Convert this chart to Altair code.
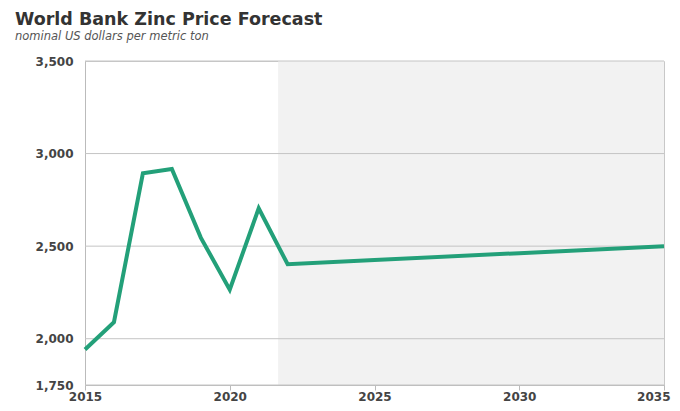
import altair as alt
import pandas as pd

years = [2015, 2016, 2017, 2018, 2019, 2020, 2021, 2022, 2025, 2030, 2035]
prices = [1942, 2089, 2893, 2917, 2546, 2265, 2704, 2402, 2425, 2462, 2500]
shade_start = [2021.67]
shade_end = [2035]
y_ticks = [1750, 2000, 2500, 3000, 3500]
x_ticks = [2015, 2020, 2025, 2030, 2035]

df = pd.DataFrame({"year": years, "price": prices})
shade = pd.DataFrame({"x": shade_start, "x2": shade_end,
                      "y": [min(y_ticks)], "y2": [max(y_ticks)]})
grid = pd.DataFrame({"v": y_ticks})

xscale = alt.Scale(domain=[2015, 2035], nice=False, zero=False)
yscale = alt.Scale(domain=[1750, 3500], nice=False, zero=False)

xaxis = alt.Axis(values=x_ticks, format="d", title=None, grid=False,
                 tickSize=5, tickColor="#bbbbbb", domainColor="#bbbbbb",
                 labelFontSize=12, labelColor="#444444", labelPadding=1,
                 labelFont="DejaVu Sans", labelFontWeight="bold",
                 labelFlush=False,
                 labelAlign={"condition": {"test": "datum.value >= 2035", "value": "right"},
                             "value": "center"},
                 labelOffset={"condition": {"test": "datum.value >= 2035", "value": 6},
                              "value": 0})
yaxis = alt.Axis(values=y_ticks, format=",.0f", title=None, grid=False,
                 ticks=False, domainColor="#bbbbbb",
                 labelFontSize=12, labelColor="#444444", labelPadding=12,
                 labelFont="DejaVu Sans", labelFontWeight="bold")

band = alt.Chart(shade).mark_rect(color="#f2f2f2").encode(
    x=alt.X("x:Q", scale=xscale, axis=xaxis),
    x2="x2",
    y=alt.Y("y:Q", scale=yscale, axis=yaxis),
    y2="y2",
)

rules = alt.Chart(grid).mark_rule(color="#c4c4c4", strokeWidth=1).encode(
    y=alt.Y("v:Q", scale=yscale, axis=yaxis)
)

line = alt.Chart(df).mark_line(color="#23a079", strokeWidth=4, strokeJoin="miter").encode(
    x=alt.X("year:Q", scale=xscale, axis=xaxis),
    y=alt.Y("price:Q", scale=yscale, axis=yaxis),
)

chart = alt.layer(band, rules, line).properties(
    width=579,
    height=324,
    autosize=alt.AutoSizeParams(type="none"),
    padding={"left": 77, "top": 53, "right": 8, "bottom": 18},
    title=alt.TitleParams(
        text="World Bank Zinc Price Forecast",
        subtitle="nominal US dollars per metric ton",
        anchor="start",
        frame="group",
        dx=-70,
        offset=13,
        font="DejaVu Sans",
        fontSize=17.5,
        fontWeight="bold",
        color="#333333",
        subtitleFont="DejaVu Sans",
        subtitleFontSize=11.5,
        subtitleFontStyle="italic",
        subtitleColor="#555555",
        subtitlePadding=2,
    ),
).configure_view(stroke="#c8c8c8")

chart.save("out.html", embed_options={"renderer": "svg", "actions": False})
